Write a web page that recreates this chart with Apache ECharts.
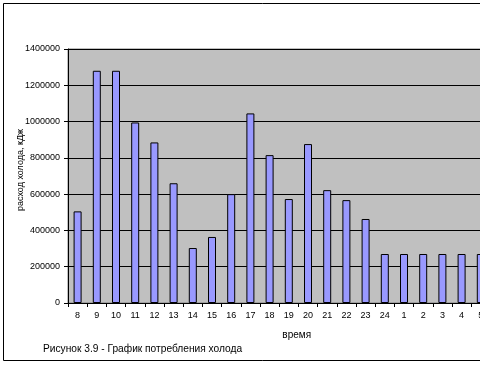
<!DOCTYPE html>
<html>
<head>
<meta charset="utf-8">
<script src="https://cdn.jsdelivr.net/npm/echarts@6/dist/echarts.min.js"></script>
<style>
html,body{margin:0;padding:0;background:#fff;overflow:hidden;width:480px;height:365px;}
#c{width:520px;height:365px;}
</style>
</head>
<body>
<div id="c"></div>
<script>
const categories = ['8','9','10','11','12','13','14','15','16','17','18','19','20','21','22','23','24','1','2','3','4','5'];
const values = [505000,1280000,1280000,995000,885000,660000,303000,364000,600000,1045000,815000,573000,876000,622000,567000,463000,270000,270000,270000,270000,270000,270000];
const yTicks = {min:0, max:1400000, step:200000};
const caption = 'Рисунок 3.9 - График потребления холода';
const xTitle = 'время';
const yTitle = 'расход холода, кДж';

const FONT = '"Liberation Sans", Arial, sans-serif';
const chart = echarts.init(document.getElementById('c'));
chart.setOption({
  animation:false,
  backgroundColor:'#fff',
  textStyle:{fontFamily:FONT},
  grid:{left:68, top:49, right:29.6, bottom:62, containLabel:false, outerBoundsMode:'none', show:true, backgroundColor:'#C0C0C0', borderColor:'#808080', borderWidth:1},
  xAxis:{
    type:'category', data:categories, boundaryGap:true,
    axisLine:{lineStyle:{color:'#000', width:1}},
    axisTick:{show:true, interval:0, length:4, lineStyle:{color:'#000'}},
    axisLabel:{interval:0, color:'#000', fontSize:9, margin:8, fontFamily:FONT},
    name:xTitle, nameLocation:'middle', nameGap:27, nameMoveOverlap:false,
    nameTextStyle:{color:'#000', fontSize:10, fontFamily:FONT, padding:[0,0,0,35]}
  },
  yAxis:{
    type:'value', min:yTicks.min, max:yTicks.max, interval:yTicks.step,
    axisLine:{show:true, lineStyle:{color:'#000', width:1}},
    axisTick:{show:true, length:4, lineStyle:{color:'#000'}},
    axisLabel:{color:'#000', fontSize:9, margin:8, fontFamily:FONT, formatter:function(v){return String(v);}},
    splitLine:{show:true, lineStyle:{color:'#000', width:1}},
    name:yTitle, nameLocation:'middle', nameRotate:90, nameGap:43, nameMoveOverlap:false,
    nameTextStyle:{color:'#000', fontSize:9, fontFamily:FONT, padding:[0,0,0,12]}
  },
  series:[{
    type:'bar', data:values, barWidth:8,
    itemStyle:{color:'#9999FF', borderColor:'#000', borderWidth:1}
  }],
  graphic:[
    {type:'rect', shape:{x:3.5, y:3.5, width:600, height:357}, style:{fill:null, stroke:'#000', lineWidth:1}, silent:true, z:100},
    {type:'text', left:43, top:344, style:{text:caption, fill:'#000', font:'10.2px ' + FONT}, z:100}
  ]
});
</script>
</body>
</html>
